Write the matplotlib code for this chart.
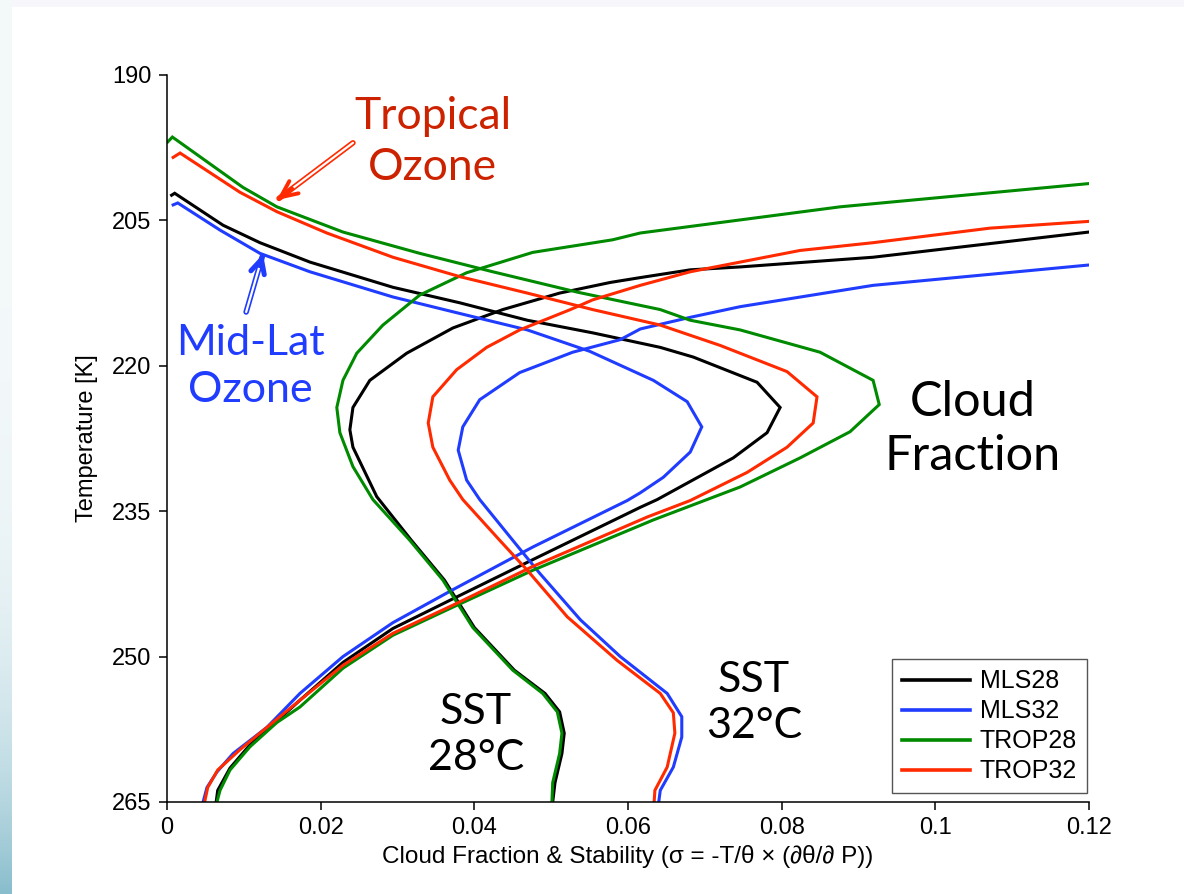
import numpy as np
import matplotlib
matplotlib.use("Agg")
import matplotlib.pyplot as plt
from matplotlib.lines import Line2D

plt.rcParams['font.family'] = ['Liberation Sans', 'DejaVu Sans']

# ---------------------------------------------------------------------------
# Profiles: temperature [K] and value (cloud fraction or static stability)
# ---------------------------------------------------------------------------
# Cloud fraction profiles
mls28_cloud_T = [202.4, 202.2, 205.5, 207.3, 209.3, 211.9, 213.5, 215.3, 216.6, 218.1,
                 219.1, 221.7, 224.3, 226.9, 229.5, 233.8, 234.6, 240.0, 244.2, 247.1,
                 250.6, 254.5, 256.8, 259.1, 261.5, 263.8, 265.0]
mls28_cloud = [0.0006, 0.0010, 0.0073, 0.0121, 0.0186, 0.0294, 0.0381, 0.0469, 0.0554, 0.0642,
               0.0685, 0.0768, 0.0798, 0.0781, 0.0737, 0.0638, 0.0616, 0.0476, 0.0368, 0.0294,
               0.0229, 0.0173, 0.0141, 0.0108, 0.0082, 0.0066, 0.0064]

mls32_cloud_T = [203.4, 203.2, 206.0, 208.4, 210.3, 212.9, 214.6, 216.3, 218.5, 221.5,
                 223.7, 226.3, 228.9, 231.5, 233.1, 233.9, 238.7, 243.1, 246.5, 250.0,
                 253.8, 257.3, 260.0, 261.9, 263.5, 265.0]
mls32_cloud = [0.0008, 0.0014, 0.0069, 0.0121, 0.0186, 0.0294, 0.0381, 0.0469, 0.0550, 0.0633,
               0.0677, 0.0696, 0.0681, 0.0646, 0.0616, 0.0599, 0.0476, 0.0372, 0.0294, 0.0229,
               0.0173, 0.0130, 0.0086, 0.0065, 0.0052, 0.0047]

trop28_cloud_T = [196.9, 196.4, 201.6, 203.6, 206.2, 208.4, 210.3, 212.4, 214.2, 215.3,
                  216.3, 218.6, 221.5, 224.0, 226.8, 229.5, 232.5, 235.9, 241.1, 244.9,
                  247.8, 251.2, 255.2, 256.8, 259.3, 261.7, 263.8, 265.0]
trop28_cloud = [0.0001, 0.0007, 0.0099, 0.0143, 0.0229, 0.0329, 0.0424, 0.0534, 0.0642, 0.0681,
                0.0746, 0.0850, 0.0919, 0.0927, 0.0889, 0.0824, 0.0746, 0.0633, 0.0476, 0.0372,
                0.0294, 0.0229, 0.0173, 0.0143, 0.0108, 0.0082, 0.0069, 0.0065]

trop32_cloud_T = [198.5, 198.05, 202.1, 204.1, 206.3, 208.8, 210.8, 212.5, 214.2, 215.8,
                  217.9, 220.6, 223.2, 225.9, 228.4, 231.0, 233.9, 235.6, 240.7, 244.7,
                  247.6, 250.9, 254.5, 257.3, 259.6, 261.7, 263.5, 265.0]
trop32_cloud = [0.0008, 0.0017, 0.0095, 0.0143, 0.0208, 0.0294, 0.0381, 0.0469, 0.0554, 0.0642,
                0.0720, 0.0807, 0.0846, 0.0841, 0.0807, 0.0755, 0.0681, 0.0625, 0.0476, 0.0372,
                0.0294, 0.0229, 0.0173, 0.0130, 0.0095, 0.0066, 0.0053, 0.0049]

# Static stability profiles
mls28_stab_T = [206.2, 208.8, 209.8, 210.1, 210.9, 211.4, 212.5, 214.2, 216.1, 218.7,
                221.5, 224.3, 226.6, 228.4, 233.5, 238.0, 242.1, 247.0, 251.4, 253.8,
                255.7, 257.9, 260.0, 263.0, 265.0]
mls28_stab = [0.1200, 0.0919, 0.0746, 0.0681, 0.0616, 0.0577, 0.0511, 0.0437, 0.0372, 0.0312,
              0.0264, 0.0242, 0.0238, 0.0242, 0.0273, 0.0318, 0.0361, 0.0400, 0.0452, 0.0492,
              0.0511, 0.0517, 0.0514, 0.0505, 0.0502]

mls32_stab_T = [209.6, 211.7, 213.9, 215.0, 216.2, 217.3, 218.6, 220.7, 223.5, 226.3,
                228.7, 231.8, 233.8, 238.0, 241.4, 246.2, 250.0, 253.8, 256.2, 258.3,
                261.4, 263.8, 265.0]
mls32_stab = [0.1200, 0.0919, 0.0746, 0.0681, 0.0616, 0.0590, 0.0528, 0.0459, 0.0407, 0.0385,
              0.0379, 0.0390, 0.0407, 0.0450, 0.0485, 0.0538, 0.0590, 0.0651, 0.0670, 0.0670,
              0.0659, 0.0642, 0.0640]

trop28_stab_T = [201.2, 203.6, 206.3, 207.0, 208.3, 210.4, 212.7, 215.8, 218.7, 221.5,
                 224.3, 226.9, 230.4, 233.8, 238.0, 242.1, 247.0, 251.4, 253.8, 255.7,
                 257.9, 260.0, 263.0, 265.0]
trop28_stab = [0.1200, 0.0876, 0.0616, 0.0580, 0.0476, 0.0390, 0.0329, 0.0281, 0.0247, 0.0229,
               0.0221, 0.0225, 0.0242, 0.0268, 0.0316, 0.0359, 0.0398, 0.0450, 0.0489, 0.0508,
               0.0514, 0.0511, 0.0502, 0.0501]

trop32_stab_T = [205.1, 205.8, 207.3, 208.1, 209.3, 210.3, 211.7, 213.2, 214.2, 216.3,
                 218.1, 220.4, 223.2, 225.9, 228.4, 231.8, 233.8, 238.0, 241.1, 245.9,
                 250.4, 253.8, 255.8, 257.9, 261.4, 263.8, 265.0]
trop32_stab = [0.1200, 0.1071, 0.0919, 0.0824, 0.0746, 0.0681, 0.0616, 0.0554, 0.0525, 0.0459,
               0.0416, 0.0377, 0.0346, 0.0340, 0.0346, 0.0368, 0.0385, 0.0433, 0.0469, 0.0521,
               0.0586, 0.0642, 0.0659, 0.0661, 0.0651, 0.0635, 0.0634]

series_names = ['MLS28', 'MLS32', 'TROP28', 'TROP32']
series_colors = ['#000000', '#1f3cff', '#008a00', '#ff2a00']

x_ticks = [0, 0.02, 0.04, 0.06, 0.08, 0.10, 0.12]
x_tick_labels = ['0', '0.02', '0.04', '0.06', '0.08', '0.1', '0.12']
y_ticks = [190, 205, 220, 235, 250, 265]

profiles = {
    'MLS28': ((mls28_cloud, mls28_cloud_T), (mls28_stab, mls28_stab_T)),
    'MLS32': ((mls32_cloud, mls32_cloud_T), (mls32_stab, mls32_stab_T)),
    'TROP28': ((trop28_cloud, trop28_cloud_T), (trop28_stab, trop28_stab_T)),
    'TROP32': ((trop32_cloud, trop32_cloud_T), (trop32_stab, trop32_stab_T)),
}

# ---------------------------------------------------------------------------
W, H = 1184, 894
fig = plt.figure(figsize=(W / 100, H / 100), dpi=100)
fig.patch.set_facecolor('white')

# slide backdrop: pale top band and a blue-teal strip on the left edge
backdrop = np.ones((H, W, 3))
backdrop[:7, :, :] = [0.968, 0.968, 0.988]
t = (np.arange(H) / H) ** 5
top_col = np.array([0.955, 0.975, 0.98])
bot_col = np.array([0.53, 0.74, 0.80])
strip = top_col[None, :] + (bot_col - top_col)[None, :] * t[:, None]
backdrop[:, :12, :] = strip[:, None, :]
fig.figimage((backdrop * 255).astype(np.uint8), xo=0, yo=0, origin='upper', zorder=-10)

ax = fig.add_axes([167 / W, 1 - 802 / H, 922 / W, 727 / H])
ax.set_facecolor('none')

for name, color in zip(series_names, series_colors):
    (cf, cf_T), (st, st_T) = profiles[name]
    ax.plot(cf, cf_T, color=color, lw=2.2, solid_joinstyle='miter')
    ax.plot(st, st_T, color=color, lw=2.2, solid_joinstyle='miter')

ax.set_xlim(0, 0.12)
ax.set_ylim(265, 190)
ax.set_xticks(x_ticks)
ax.set_xticklabels(x_tick_labels)
ax.set_yticks(y_ticks)
ax.tick_params(direction='out', length=6, width=1.1, pad=5, labelsize=17, color='black')
for side in ('top', 'right'):
    ax.spines[side].set_visible(False)
for side in ('left', 'bottom'):
    ax.spines[side].set_linewidth(1.1)

ax.set_xlabel('Cloud Fraction & Stability (\u03c3 = -T/\u03b8 \u00d7 (\u2202\u03b8/\u2202 P))',
              fontsize=17.5, labelpad=4)
ax.set_ylabel('Temperature [K]', fontsize=17, labelpad=10)

# annotations
big = ['Lato', 'DejaVu Sans']
note_kw = dict(family=big, fontweight='normal', ha='center', va='center',
               multialignment='center', linespacing=1.28)
ax.text(0.0346, 196.9, 'Tropical\nOzone', color='#cc2200', fontsize=32, **note_kw)
ax.text(0.0108, 220.1, 'Mid-Lat\nOzone', color='#1f3cff', fontsize=31, **note_kw)
ax.text(0.1048, 226.5, 'Cloud\nFraction', color='black', fontsize=35, **note_kw)
ax.text(0.0402, 258.1, 'SST\n28\u00b0C', color='black', fontsize=31, **note_kw)
ax.text(0.0764, 254.8, 'SST\n32\u00b0C', color='black', fontsize=31, **note_kw)


def hollow_arrow(tail, head, color, head_lw, head_len, head_w):
    """Double-line shaft ending in an open chevron head."""
    ax.annotate('', xy=head, xytext=tail,
                arrowprops=dict(arrowstyle='-', color=color, lw=4.0,
                                shrinkA=0, shrinkB=2))
    ax.annotate('', xy=head, xytext=tail,
                arrowprops=dict(arrowstyle='-', color='white', lw=1.6,
                                shrinkA=0, shrinkB=10))
    hx = head[0] + 0.2 * (tail[0] - head[0])
    hy = head[1] + 0.2 * (tail[1] - head[1])
    ax.annotate('', xy=head, xytext=(hx, hy),
                arrowprops=dict(arrowstyle=f'->,head_length={head_len},head_width={head_w}',
                                color=color, lw=head_lw, shrinkA=0, shrinkB=0))


hollow_arrow((0.0242, 197.0), (0.0143, 202.9), '#ff2a00', 2.8, 1.2, 0.55)
hollow_arrow((0.0103, 214.45), (0.0125, 208.47), '#1f3cff', 3.6, 1.0, 0.5)

handles = [Line2D([], [], color=c, lw=2.6) for c in series_colors]
leg = ax.legend(handles, series_names, loc='lower right', bbox_to_anchor=(0.998, 0.012),
                fontsize=18, frameon=True, fancybox=False, framealpha=1,
                edgecolor='#555555', handlelength=2.7, handletextpad=0.4,
                labelspacing=0.24, borderpad=0.4, borderaxespad=0)
leg.get_frame().set_linewidth(1.0)

fig.savefig('out.png', dpi=100, facecolor=fig.get_facecolor())
